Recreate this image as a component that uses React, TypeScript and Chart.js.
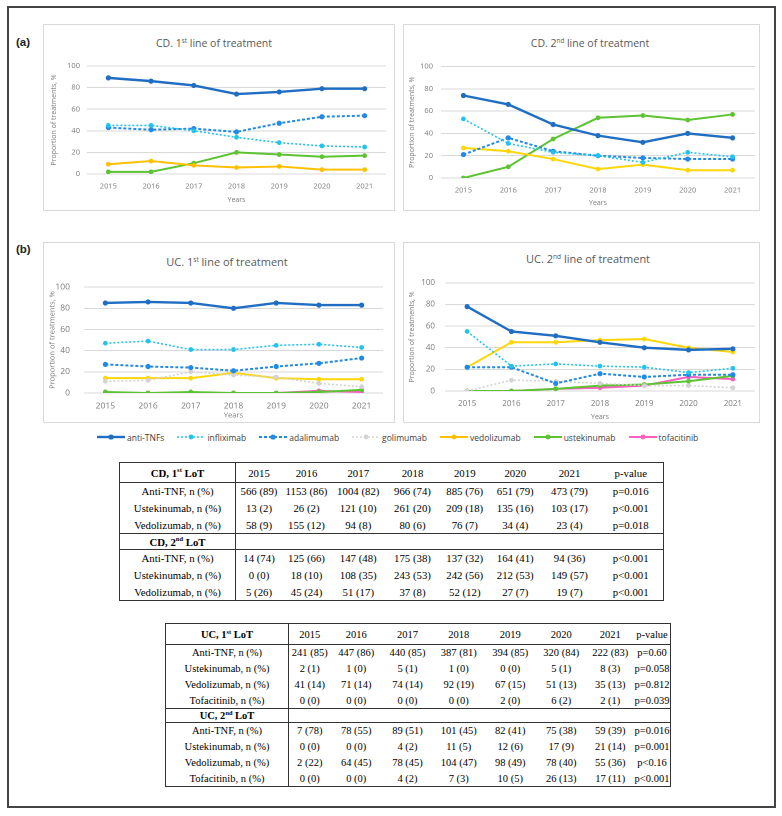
import React, { useEffect, useRef } from "react";
import { Chart, registerables } from "chart.js";

Chart.register(...registerables);

// ---------------- DATA ----------------
const years = ["2015", "2016", "2017", "2018", "2019", "2020", "2021"];

const cd1AntiTNF = [89, 86, 82, 74, 76, 79, 79];
const cd1Infliximab = [45, 45, 40, 34, 29, 26, 25];
const cd1Adalimumab = [43, 41, 42, 39, 47, 53, 54];
const cd1Vedolizumab = [9, 12, 8, 6, 7, 4, 4];
const cd1Ustekinumab = [2, 2, 10, 20, 18, 16, 17];

const cd2AntiTNF = [74, 66, 48, 38, 32, 40, 36];
const cd2Infliximab = [53, 31, 23, 20, 14, 23, 19];
const cd2Adalimumab = [21, 36, 24, 20, 18, 17, 17];
const cd2Vedolizumab = [27, 24, 17, 8, 12, 7, 7];
const cd2Ustekinumab = [0, 10, 35, 54, 56, 52, 57];

const uc1AntiTNF = [85, 86, 85, 80, 85, 83, 83];
const uc1Infliximab = [47, 49, 41, 41, 45, 46, 43];
const uc1Adalimumab = [27, 25, 24, 21, 25, 28, 33];
const uc1Golimumab = [11, 12, 20, 17, 15, 9, 6];
const uc1Vedolizumab = [14, 14, 14, 19, 14, 13, 13];
const uc1Ustekinumab = [1, 0, 1, 0, 0, 1, 3];
const uc1Tofacitinib = [0, 0, 0, 0, 0, 2, 1];

const uc2AntiTNF = [78, 55, 51, 45, 40, 38, 39];
const uc2Infliximab = [55, 23, 25, 23, 22, 17, 21];
const uc2Adalimumab = [22, 22, 7, 16, 13, 15, 15];
const uc2Golimumab = [0, 10, 9, 7, 5, 5, 3];
const uc2Vedolizumab = [22, 45, 45, 47, 48, 40, 36];
const uc2Ustekinumab = [0, 0, 2, 5, 6, 9, 14];
const uc2Tofacitinib = [0, 0, 2, 3, 5, 13, 11];

const legendLabels = ["anti-TNFs", "infliximab", "adalimumab", "golimumab", "vedolizumab", "ustekinumab", "tofacitinib"];

const tableYearHeaders = ["2015", "2016", "2017", "2018", "2019", "2020", "2021", "p-value"];

const cd1LotRows = [
  ["Anti-TNF, n (%)", "566 (89)", "1153 (86)", "1004 (82)", "966 (74)", "885 (76)", "651 (79)", "473 (79)", "p=0.016"],
  ["Ustekinumab, n (%)", "13 (2)", "26 (2)", "121 (10)", "261 (20)", "209 (18)", "135 (16)", "103 (17)", "p<0.001"],
  ["Vedolizumab, n (%)", "58 (9)", "155 (12)", "94 (8)", "80 (6)", "76 (7)", "34 (4)", "23 (4)", "p=0.018"],
];
const cd2LotRows = [
  ["Anti-TNF, n (%)", "14 (74)", "125 (66)", "147 (48)", "175 (38)", "137 (32)", "164 (41)", "94 (36)", "p<0.001"],
  ["Ustekinumab, n (%)", "0 (0)", "18 (10)", "108 (35)", "243 (53)", "242 (56)", "212 (53)", "149 (57)", "p<0.001"],
  ["Vedolizumab, n (%)", "5 (26)", "45 (24)", "51 (17)", "37 (8)", "52 (12)", "27 (7)", "19 (7)", "p<0.001"],
];
const uc1LotRows = [
  ["Anti-TNF, n (%)", "241 (85)", "447 (86)", "440 (85)", "387 (81)", "394 (85)", "320 (84)", "222 (83)", "p=0.60"],
  ["Ustekinumab, n (%)", "2 (1)", "1 (0)", "5 (1)", "1 (0)", "0 (0)", "5 (1)", "8 (3)", "p=0.058"],
  ["Vedolizumab, n (%)", "41 (14)", "71 (14)", "74 (14)", "92 (19)", "67 (15)", "51 (13)", "35 (13)", "p=0.812"],
  ["Tofacitinib, n (%)", "0 (0)", "0 (0)", "0 (0)", "0 (0)", "2 (0)", "6 (2)", "2 (1)", "p=0.039"],
];
const uc2LotRows = [
  ["Anti-TNF, n (%)", "7 (78)", "78 (55)", "89 (51)", "101 (45)", "82 (41)", "75 (38)", "59 (39)", "p=0.016"],
  ["Ustekinumab, n (%)", "0 (0)", "0 (0)", "4 (2)", "11 (5)", "12 (6)", "17 (9)", "21 (14)", "p=0.001"],
  ["Vedolizumab, n (%)", "2 (22)", "64 (45)", "78 (45)", "104 (47)", "98 (49)", "78 (40)", "55 (36)", "p<0.16"],
  ["Tofacitinib, n (%)", "0 (0)", "0 (0)", "4 (2)", "7 (3)", "10 (5)", "26 (13)", "17 (11)", "p<0.001"],
];

// ---------------- STYLES ----------------
const COL = {
  anti: "#1f6ec4",
  inf: "#22c3ef",
  ada: "#2189e6",
  gol: "#d3d3d3",
  vedCD1: "#ffc000",
  ved: "#ffd60a",
  ust: "#5cc332",
  tof: "#ff5fbf",
};

type SeriesStyle = { color: string; dash: number[]; width: number; radius: number };
const STY: Record<string, SeriesStyle> = {
  anti: { color: COL.anti, dash: [], width: 2.4, radius: 2.6 },
  inf: { color: COL.inf, dash: [2, 2], width: 1.6, radius: 2.4 },
  ada: { color: COL.ada, dash: [3, 2], width: 2, radius: 2.6 },
  gol: { color: COL.gol, dash: [2, 2], width: 1.6, radius: 2.4 },
  vedCD1: { color: COL.vedCD1, dash: [], width: 2, radius: 2.4 },
  ved: { color: COL.ved, dash: [], width: 2, radius: 2.4 },
  ust: { color: COL.ust, dash: [], width: 2, radius: 2.4 },
  tof: { color: COL.tof, dash: [], width: 2, radius: 2.4 },
};

const CHART_FONT = "'Open Sans', 'DejaVu Sans', sans-serif";
const TEXT_GREY = "#7a7a7a";

type Geo = {
  x: number; y: number; w: number; h: number;
  chartLeft: number; padRight: number; chartTop: number; xAxisH: number;
  yTickPad: number; yTitlePad: number; xTickPad: number; xTitlePad: number;
  tickSize: number; axisTitleSize: number;
};

type SeriesDef = { label: string; data: number[]; style: SeriesStyle };

function LinePanel({ geo, series }: { geo: Geo; series: SeriesDef[] }) {
  const ref = useRef<HTMLCanvasElement>(null);
  useEffect(() => {
    const chart = new Chart(ref.current as HTMLCanvasElement, {
      type: "line",
      data: {
        labels: years,
        datasets: series.map((s) => ({
          label: s.label,
          data: s.data,
          borderColor: s.style.color,
          backgroundColor: s.style.color,
          pointBackgroundColor: s.style.color,
          pointBorderColor: s.style.color,
          pointBorderWidth: 0,
          pointRadius: s.style.radius,
          borderWidth: s.style.width,
          borderDash: s.style.dash,
          tension: 0,
          fill: false,
        })),
      },
      options: {
        responsive: false,
        maintainAspectRatio: false,
        animation: false,
        devicePixelRatio: 2,
        layout: { padding: { left: 0, right: geo.padRight, top: geo.chartTop, bottom: 0 } },
        plugins: { legend: { display: false }, tooltip: { enabled: false }, title: { display: false } },
        scales: {
          x: {
            offset: true,
            grid: { display: false, drawTicks: false },
            border: { display: false },
            ticks: { font: { family: CHART_FONT, size: geo.tickSize }, color: TEXT_GREY, padding: geo.xTickPad, maxRotation: 0 },
            title: {
              display: true,
              text: "Years",
              font: { family: CHART_FONT, size: geo.axisTitleSize },
              color: TEXT_GREY,
              padding: { top: 0, bottom: geo.xTitlePad },
            },
            afterFit: (s: any) => { s.height = geo.xAxisH; },
          } as any,
          y: {
            min: 0,
            max: 100,
            grid: { color: "#d9d9d9", lineWidth: 1, drawTicks: false },
            border: { display: false },
            ticks: { stepSize: 20, font: { family: CHART_FONT, size: geo.tickSize }, color: TEXT_GREY, padding: geo.yTickPad },
            title: {
              display: true,
              text: "Proportion of treatments, %",
              font: { family: CHART_FONT, size: geo.axisTitleSize },
              color: TEXT_GREY,
              padding: { top: geo.yTitlePad, bottom: 0 },
            },
            afterFit: (s: any) => { s.width = geo.chartLeft; },
          } as any,
        },
      },
    });
    return () => chart.destroy();
  }, []);
  return (
    <canvas
      ref={ref}
      width={geo.w}
      height={geo.h}
      style={{ position: "absolute", left: geo.x, top: geo.y, width: geo.w, height: geo.h }}
    />
  );
}

function PanelBox({ x, y, w, h }: { x: number; y: number; w: number; h: number }) {
  return <div style={{ position: "absolute", left: x, top: y, width: w, height: h, border: "1px solid #d9d9d9", boxSizing: "border-box" }} />;
}

function ChartTitle({ cx, cy, prefix, num, sup, size }: { cx: number; cy: number; prefix: string; num: string; sup: string; size: number }) {
  return (
    <div
      style={{
        position: "absolute",
        left: cx,
        top: cy,
        transform: "translate(-50%, -50%)",
        whiteSpace: "nowrap",
        fontFamily: CHART_FONT,
        fontSize: size,
        color: "#595959",
        lineHeight: 1,
      }}
    >
      {prefix} {num}
      <sup style={{ fontSize: size * 0.6, verticalAlign: "0.55em", lineHeight: 0 }}>{sup}</sup> line of treatment
    </div>
  );
}

function LegendSample({ style }: { style: SeriesStyle }) {
  return (
    <svg width={28} height={8} style={{ display: "block" }}>
      <line x1={0} y1={4} x2={28} y2={4} stroke={style.color} strokeWidth={style.width} strokeDasharray={style.dash.length ? style.dash.join(" ") : undefined} />
      <circle cx={14} cy={4} r={style.radius} fill={style.color} />
    </svg>
  );
}

const legendStyles = [STY.anti, STY.inf, STY.ada, STY.gol, STY.vedCD1, STY.ust, STY.tof];

function Legend() {
  return (
    <div style={{ position: "absolute", left: 97, top: 431, height: 12, display: "flex", alignItems: "center", fontFamily: CHART_FONT, fontSize: 8.5, color: "#404040" }}>
      {legendLabels.map((l, i) => (
        <div key={l} style={{ display: "flex", alignItems: "center", marginRight: 13 }}>
          <LegendSample style={legendStyles[i]} />
          <span style={{ marginLeft: 2 }}>{l}</span>
        </div>
      ))}
    </div>
  );
}

type TableProps = {
  x: number; y: number; widths: number[]; fontSize: number;
  head1: [string, string]; head2: [string, string];
  rows1: string[][]; rows2: string[][];
  headH: number; rowH: number; subH: number;
};

function DataTable(p: TableProps) {
  const total = p.widths.reduce((a, b) => a + b, 0);
  const cell: React.CSSProperties = { padding: 0, textAlign: "center", whiteSpace: "nowrap", overflow: "visible" };
  const firstCol: React.CSSProperties = { ...cell, borderRight: "1px solid #333" };
  return (
    <table
      style={{
        position: "absolute",
        left: p.x,
        top: p.y,
        width: total,
        borderCollapse: "collapse",
        tableLayout: "fixed",
        fontFamily: "'Liberation Serif', 'Times New Roman', serif",
        fontSize: p.fontSize,
        color: "#000",
        border: "1.2px solid #333",
      }}
    >
      <colgroup>
        {p.widths.map((w, i) => (
          <col key={i} style={{ width: w }} />
        ))}
      </colgroup>
      <tbody>
        <tr style={{ height: p.headH, borderBottom: "1px solid #333" }}>
          <td style={{ ...firstCol, fontWeight: "bold" }}>
            {p.head1[0]}
            <sup style={{ fontSize: "0.6em", lineHeight: 0 }}>{p.head1[1]}</sup> LoT
          </td>
          {tableYearHeaders.map((h) => (
            <td key={h} style={cell}>{h}</td>
          ))}
        </tr>
        {p.rows1.map((r, i) => (
          <tr key={"a" + i} style={{ height: p.rowH }}>
            {r.map((c, j) => (
              <td key={j} style={j === 0 ? firstCol : cell}>{c}</td>
            ))}
          </tr>
        ))}
        <tr style={{ height: p.subH, borderTop: "1px solid #333", borderBottom: "1px solid #333" }}>
          <td style={{ ...firstCol, fontWeight: "bold" }}>
            {p.head2[0]}
            <sup style={{ fontSize: "0.6em", lineHeight: 0 }}>{p.head2[1]}</sup> LoT
          </td>
          <td colSpan={8} style={cell}></td>
        </tr>
        {p.rows2.map((r, i) => (
          <tr key={"b" + i} style={{ height: p.rowH }}>
            {r.map((c, j) => (
              <td key={j} style={j === 0 ? firstCol : cell}>{c}</td>
            ))}
          </tr>
        ))}
      </tbody>
    </table>
  );
}

// ---------------- GEOMETRY ----------------
const geoCD1: Geo = { x: 43, y: 54, w: 352, h: 157, chartLeft: 44, padRight: 9, chartTop: 12, xAxisH: 37, yTickPad: 7, yTitlePad: 7, xTickPad: 8, xTitlePad: 7, tickSize: 7.5, axisTitleSize: 7 };
const geoCD2: Geo = { x: 403, y: 54, w: 357, h: 157, chartLeft: 38, padRight: 5, chartTop: 12, xAxisH: 33, yTickPad: 8, yTitlePad: 5, xTickPad: 8, xTitlePad: 4, tickSize: 7.5, axisTitleSize: 7 };
const geoUC1: Geo = { x: 43, y: 268, w: 352, h: 155, chartLeft: 41, padRight: 12, chartTop: 8, xAxisH: 30, yTickPad: 14, yTitlePad: 5, xTickPad: 8, xTitlePad: 3, tickSize: 8.5, axisTitleSize: 7.5 };
const geoUC2: Geo = { x: 403, y: 268, w: 357, h: 155, chartLeft: 42, padRight: 5, chartTop: 8, xAxisH: 32, yTickPad: 10, yTitlePad: 5, xTickPad: 8, xTitlePad: 2, tickSize: 8, axisTitleSize: 7 };

export default function App() {
  const cd1Series: SeriesDef[] = [
    { label: "anti-TNFs", data: cd1AntiTNF, style: STY.anti },
    { label: "infliximab", data: cd1Infliximab, style: STY.inf },
    { label: "adalimumab", data: cd1Adalimumab, style: STY.ada },
    { label: "vedolizumab", data: cd1Vedolizumab, style: STY.vedCD1 },
    { label: "ustekinumab", data: cd1Ustekinumab, style: STY.ust },
  ];
  const cd2Series: SeriesDef[] = [
    { label: "anti-TNFs", data: cd2AntiTNF, style: STY.anti },
    { label: "infliximab", data: cd2Infliximab, style: STY.inf },
    { label: "adalimumab", data: cd2Adalimumab, style: STY.ada },
    { label: "vedolizumab", data: cd2Vedolizumab, style: STY.ved },
    { label: "ustekinumab", data: cd2Ustekinumab, style: STY.ust },
  ];
  const uc1Series: SeriesDef[] = [
    { label: "anti-TNFs", data: uc1AntiTNF, style: STY.anti },
    { label: "infliximab", data: uc1Infliximab, style: STY.inf },
    { label: "adalimumab", data: uc1Adalimumab, style: STY.ada },
    { label: "golimumab", data: uc1Golimumab, style: STY.gol },
    { label: "vedolizumab", data: uc1Vedolizumab, style: STY.ved },
    { label: "ustekinumab", data: uc1Ustekinumab, style: STY.ust },
    { label: "tofacitinib", data: uc1Tofacitinib, style: STY.tof },
  ];
  const uc2Series: SeriesDef[] = [
    { label: "anti-TNFs", data: uc2AntiTNF, style: STY.anti },
    { label: "infliximab", data: uc2Infliximab, style: STY.inf },
    { label: "adalimumab", data: uc2Adalimumab, style: STY.ada },
    { label: "golimumab", data: uc2Golimumab, style: STY.gol },
    { label: "vedolizumab", data: uc2Vedolizumab, style: STY.ved },
    { label: "ustekinumab", data: uc2Ustekinumab, style: STY.ust },
    { label: "tofacitinib", data: uc2Tofacitinib, style: STY.tof },
  ];

  const labelStyle: React.CSSProperties = { position: "absolute", fontFamily: "'Liberation Sans', Arial, sans-serif", fontWeight: "bold", fontSize: 11.5, color: "#222" };

  return (
    <div style={{ position: "absolute", left: 0, top: 0, width: 782, height: 816, background: "#fff", overflow: "hidden" }}>
      <div style={{ position: "absolute", left: 7, top: 6, width: 769, height: 802, border: "2px solid #444", boxSizing: "border-box" }} />

      <div style={{ ...labelStyle, left: 16, top: 36 }}>(a)</div>
      <div style={{ ...labelStyle, left: 16, top: 243 }}>(b)</div>

      <PanelBox x={43} y={24} w={352} h={187} />
      <PanelBox x={403} y={24} w={357} h={187} />
      <PanelBox x={43} y={242} w={352} h={181} />
      <PanelBox x={403} y={242} w={357} h={181} />

      <ChartTitle cx={214} cy={43} prefix="CD." num="1" sup="st" size={10.5} />
      <ChartTitle cx={590} cy={43} prefix="CD." num="2" sup="nd" size={10.5} />
      <ChartTitle cx={227} cy={261} prefix="UC." num="1" sup="st" size={11} />
      <ChartTitle cx={588} cy={258} prefix="UC." num="2" sup="nd" size={11} />

      <LinePanel geo={geoCD1} series={cd1Series} />
      <LinePanel geo={geoCD2} series={cd2Series} />
      <LinePanel geo={geoUC1} series={uc1Series} />
      <LinePanel geo={geoUC2} series={uc2Series} />

      <Legend />

      <DataTable
        x={119}
        y={462}
        widths={[116, 46.5, 49, 54.5, 54, 50.5, 50.5, 58, 65]}
        fontSize={10.8}
        head1={["CD, 1", "st"]}
        head2={["CD, 2", "nd"]}
        rows1={cd1LotRows}
        rows2={cd2LotRows}
        headH={20}
        rowH={17}
        subH={16}
      />

      <DataTable
        x={165}
        y={623}
        widths={[123, 42, 51.5, 51, 51.5, 51.5, 50.5, 47.5, 36.5]}
        fontSize={10.5}
        head1={["UC, 1", "st"]}
        head2={["UC, 2", "nd"]}
        rows1={uc1LotRows}
        rows2={uc2LotRows}
        headH={21}
        rowH={16}
        subH={14}
      />
    </div>
  );
}
